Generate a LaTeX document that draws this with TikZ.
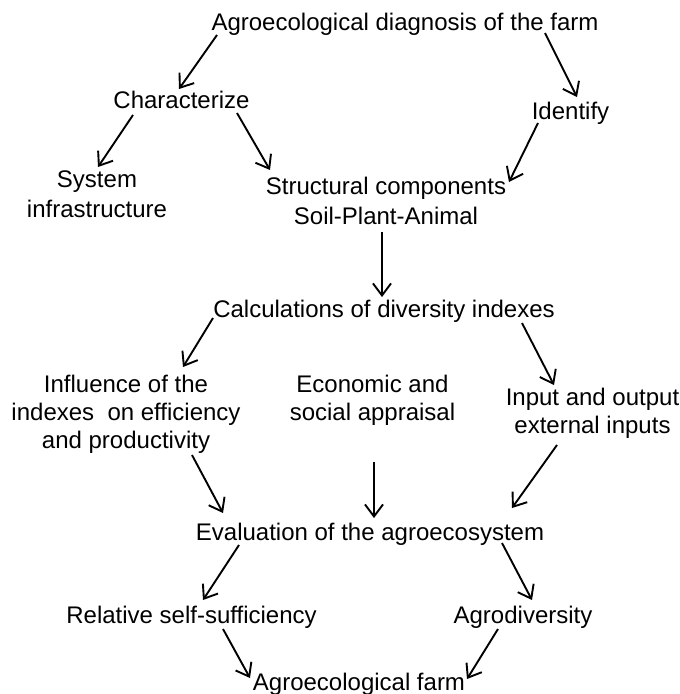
\documentclass[tikz,border=0pt]{standalone}
\usepackage{fontspec}
\setmainfont{Liberation Sans}
\usetikzlibrary{arrows.meta}
\begin{document}
\begin{tikzpicture}[x=1pt,y=-1pt,
  lbl/.style={inner sep=0pt,align=center,anchor=base,font=\fontsize{24}{28}\selectfont},
  arr/.style={line width=1.9pt,-{Straight Barb[length=12pt,width=18pt,line width=1.9pt]}}]
\useasboundingbox[fill=white] (0,0) rectangle (680,694);
% multi-line nodes are placed by the baseline of their last line
\node[lbl] (top) at (405,30) {Agroecological diagnosis of the farm};
\node[lbl] (char) at (181.5,108) {Characterize};
\node[lbl] (ident) at (570.5,119) {Identify};
\node[lbl] (sysinf) at (97,217) {System\\[2pt]infrastructure};
\node[lbl] (struct) at (386,224) {Structural components\\[2pt]Soil-Plant-Animal};
\node[lbl] (calc) at (384,317) {Calculations of diversity indexes};
\node[lbl] (infl) at (126,448) {Influence of the\\indexes\ \ on efficiency\\and productivity};
\node[lbl] (econ) at (372.5,420) {Economic and\\social appraisal};
\node[lbl] (inout) at (592.5,433) {Input and output\\external inputs};
\node[lbl] (eval) at (370,540) {Evaluation of the agroecosystem};
\node[lbl] (rel) at (191.5,623) {Relative self-sufficiency};
\node[lbl] (agro) at (523,623) {Agrodiversity};
\node[lbl] (farm) at (359,690) {Agroecological farm};
\draw[arr] ([shift={(-188,5)}]top.base) -- ([shift={(-2.5,-19)}]char.base);
\draw[arr] ([shift={(140,3)}]top.base) -- ([shift={(6.5,-22)}]ident.base);
\draw[arr] ([shift={(-48.5,7)}]char.base) -- ([shift={(1,-50)}]sysinf.base);
\draw[arr] ([shift={(55.5,5)}]char.base) -- ([shift={(-116,-54)}]struct.base);
\draw[arr] ([shift={(-32.5,4)}]ident.base) -- ([shift={(123,-42)}]struct.base);
\draw[arr] ([shift={(-4,8)}]struct.base) -- ([shift={(-2,-20)}]calc.base);
\draw[arr] ([shift={(-171,1)}]calc.base) -- ([shift={(57,-81)}]infl.base);
\draw[arr] ([shift={(138,6)}]calc.base) -- ([shift={(-38.5,-48)}]inout.base);
\draw[arr] ([shift={(66,7)}]infl.base) -- ([shift={(-147,-27)}]eval.base);
\draw[arr] ([shift={(1.5,42)}]econ.base) -- ([shift={(4,-22)}]eval.base);
\draw[arr] ([shift={(-35.5,12)}]inout.base) -- ([shift={(142,-32)}]eval.base);
\draw[arr] ([shift={(-131,5)}]eval.base) -- ([shift={(11.5,-23)}]rel.base);
\draw[arr] ([shift={(132,3)}]eval.base) -- ([shift={(9,-23)}]agro.base);
\draw[arr] ([shift={(31.5,6)}]rel.base) -- ([shift={(-109,-12)}]farm.base);
\draw[arr] ([shift={(-25,6)}]agro.base) -- ([shift={(108,-11)}]farm.base);
\end{tikzpicture}
\end{document}
